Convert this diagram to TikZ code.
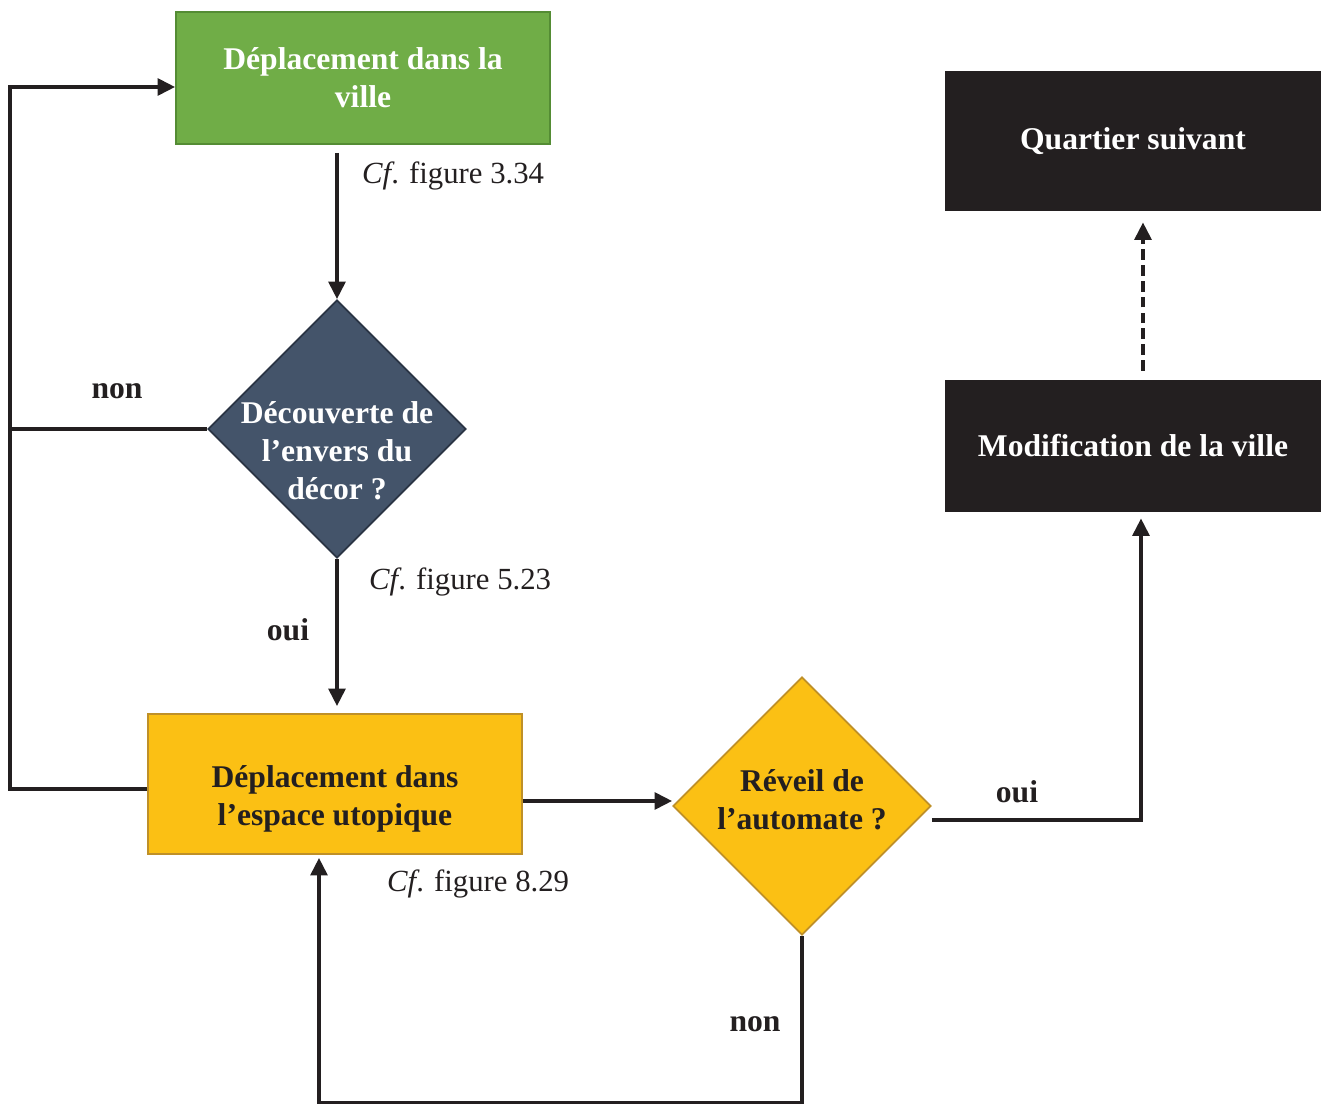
\documentclass[tikz,border=0pt]{standalone}
\usepackage{fontspec}
\setmainfont{Liberation Serif}
\usepackage{xcolor}
\usepackage{tikz}
\usetikzlibrary{arrows.meta, positioning, shapes.geometric}
\definecolor{inkdark}{RGB}{35, 31, 32}
\definecolor{leafgreen}{RGB}{112, 173, 71}
\definecolor{leafedge}{RGB}{84, 140, 52}
\definecolor{slateblue}{RGB}{68, 84, 106}
\definecolor{slateedge}{RGB}{42, 52, 68}
\definecolor{sunyellow}{RGB}{251, 192, 20}
\definecolor{sunedge}{RGB}{191, 144, 40}

\begin{document}
\begin{tikzpicture}[x=0.02cm, y=-0.02cm, font=\fontsize{18}{21.5}\selectfont\bfseries,
  >={Triangle[length=10pt, width=9.5pt]},
  conn/.style={draw=inkdark, line width=2.2pt},
  box/.style={rectangle, minimum width=7.48cm, align=center, line width=1pt},
  choice/.style={diamond, aspect=1, minimum size=5.16cm, inner sep=0pt, line width=1pt},
  ref/.style={font=\fontsize{17.5}{21}\selectfont, text=inkdark, anchor=west},
  tag/.style={text=inkdark}]
  \useasboundingbox (0,0) rectangle (1322,1104);

  % boxes and questions
  \node[box, fill=leafgreen, draw=leafedge, text=white, minimum height=2.64cm] (ville) at (363,78) {Déplacement dans la\\ville};
  \node[choice, fill=slateblue, draw=slateedge,
        label={[text=white, align=center, yshift=-0.44cm]center:Découverte de\\l’envers du\\décor ?}] (envers) at (337,429) {};
  \node[box, fill=sunyellow, draw=sunedge, minimum height=2.8cm,
        label={[text=inkdark, align=center, yshift=-0.3cm]center:Déplacement dans\\l’espace utopique}] (espace) at (335,784) {};
  \node[choice, fill=sunyellow, draw=sunedge,
        label={[text=inkdark, align=center, yshift=0.12cm]center:Réveil de\\l’automate ?}] (reveil) at (802,806) {};
  \node[box, fill=inkdark, text=white, minimum width=7.52cm, minimum height=2.66cm] (modif) at (1133,446) {Modification de la ville};
  \node[box, fill=inkdark, text=white, minimum width=7.52cm, minimum height=2.82cm] (quartier) at (1133,141) {\raisebox{-2pt}{Quartier suivant}};

  \coordinate (loop) at (10,87);

  % connectors
  \draw[conn, ->] ([yshift=-0.16cm]envers.north |- ville.south) -- (envers.north);
  \draw[conn, ->] (envers.west) -- (envers.west -| loop) -- (loop) -- (loop -| ville.west);
  \draw[conn, ->] (envers.south) -- ([yshift=0.14cm]envers.south |- espace.north);
  \draw[conn] ([yshift=-0.1cm]espace.west) -| (envers.west -| loop);
  \draw[conn, ->] ([yshift=0.1cm]espace.east |- reveil.west) -- ([yshift=0.1cm]reveil.west);
  \draw[conn, ->] ([yshift=-0.28cm]reveil.east) -| ([xshift=0.16cm, yshift=-0.1cm]modif.south);
  \draw[conn, ->] (reveil.south) -- ++(0,167) -| ([xshift=-0.32cm, yshift=-0.06cm]espace.south);
  \draw[conn, dash pattern=on 6pt off 3pt, ->] ([xshift=0.2cm, yshift=0.16cm]modif.north) -- ([xshift=0.2cm, yshift=-0.2cm]quartier.south);

  % labels
  \node[ref] (cf1) at (356,176) {{\itshape Cf}. figure 3.34};
  \node[ref] (cf2) at (363,582) {{\itshape Cf}. figure 5.23};
  \node[ref] (cf3) at (381,884) {{\itshape Cf}. figure 8.29};
  \node[tag] (non1) at (117,391) {non};
  \node[tag] (oui1) at (288,630) {oui};
  \node[tag] (oui2) at (1017,792) {oui};
  \node[tag] (non2) at (755,1024) {non};
\end{tikzpicture}
\end{document}
